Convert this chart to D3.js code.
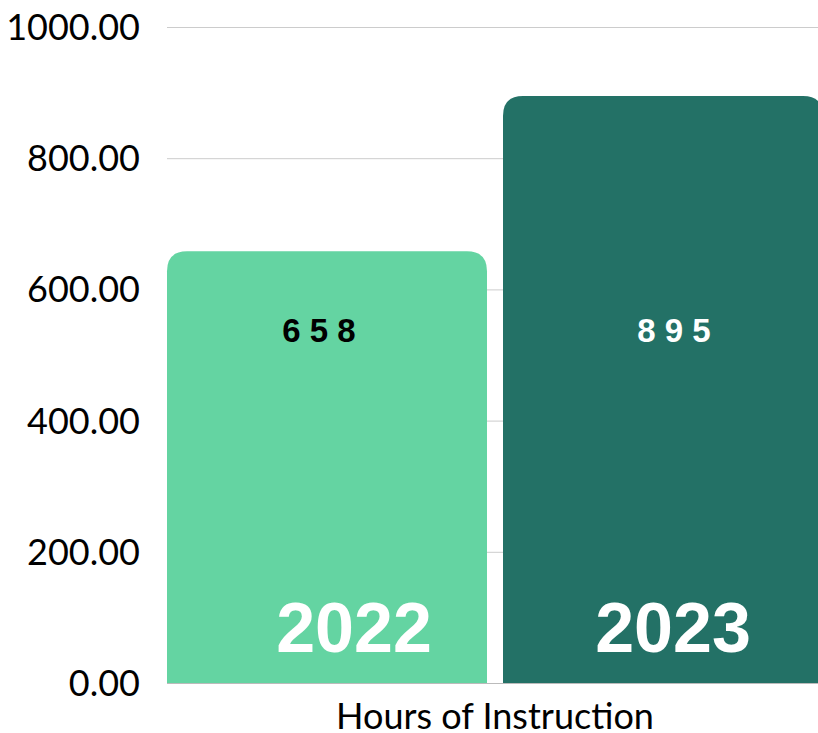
<!DOCTYPE html>
<html>
<head>
<meta charset="utf-8">
<script src="https://cdn.jsdelivr.net/npm/d3@7"></script>
<style>
  body { margin: 0; background: #fff; }
  svg { display: block; }
</style>
</head>
<body>
<svg id="chart" width="818" height="733"></svg>
<script>
const years = ["2022", "2023"];
const hours = [658, 895];
const yTicks = [0, 200, 400, 600, 800, 1000];
const axisTitle = "Hours of Instruction";
const barColors = ["#64d4a2", "#237166"];
const valueColors = ["#000000", "#ffffff"];

const svg = d3.select("#chart");
const plotLeft = 167, plotRight = 823, plotTop = 27, plotBottom = 683;

const x = d3.scaleBand()
  .domain(years)
  .range([plotLeft, plotRight])
  .paddingInner(16 / 336)
  .paddingOuter(0);

const y = d3.scaleLinear()
  .domain([0, 1000])
  .range([plotBottom, plotTop]);

// grid lines
svg.append("g")
  .selectAll("line")
  .data(yTicks.filter(d => d > 0))
  .enter()
  .append("line")
  .attr("x1", plotLeft)
  .attr("x2", 818)
  .attr("y1", d => y(d) + 0.5)
  .attr("y2", d => y(d) + 0.5)
  .attr("stroke", "#cccccc")
  .attr("stroke-width", 1);

// y tick labels
svg.append("g")
  .selectAll("text")
  .data(yTicks)
  .enter()
  .append("text")
  .attr("x", 140)
  .attr("y", d => y(d))
  .attr("dy", "0.36em")
  .attr("text-anchor", "end")
  .style("font-family", "Lato, sans-serif")
  .style("font-size", "36px")
  .attr("fill", "#000")
  .text(d => d3.format(".2f")(d));

// rounded-top bar path
function barPath(x0, y0, w, h, r) {
  return `M${x0},${y0 + h}V${y0 + r}Q${x0},${y0} ${x0 + r},${y0}` +
    `H${x0 + w - r}Q${x0 + w},${y0} ${x0 + w},${y0 + r}V${y0 + h}Z`;
}

const data = years.map((yr, i) => ({ year: yr, value: hours[i], i }));

svg.append("g")
  .selectAll("path")
  .data(data)
  .enter()
  .append("path")
  .attr("d", d => barPath(x(d.year), y(d.value), x.bandwidth(), plotBottom - y(d.value), 20))
  .attr("fill", d => barColors[d.i]);

// baseline
svg.append("line")
  .attr("x1", plotLeft)
  .attr("x2", 818)
  .attr("y1", plotBottom + 0.5)
  .attr("y2", plotBottom + 0.5)
  .attr("stroke", "#bbbbbb")
  .attr("stroke-width", 1);

// value labels
svg.append("g")
  .selectAll("text")
  .data(data)
  .enter()
  .append("text")
  .attr("x", d => x(d.year) + x.bandwidth() / 2 + (d.i === 0 ? -8 : 11))
  .attr("y", 342)
  .attr("text-anchor", "middle")
  .style("font-family", "'Liberation Sans', Arial, sans-serif")
  .style("font-weight", "bold")
  .style("font-size", "33px")
  .attr("fill", d => valueColors[d.i])
  .text(d => String(d.value).split("").join(" "));

// year labels
svg.append("g")
  .selectAll("text")
  .data(data)
  .enter()
  .append("text")
  .attr("x", d => x(d.year) + x.bandwidth() / 2 + (d.i === 0 ? 27 : 10))
  .attr("y", 652)
  .attr("text-anchor", "middle")
  .style("font-family", "'Liberation Sans', Arial, sans-serif")
  .style("font-weight", "bold")
  .style("font-size", "70px")
  .attr("fill", "#fff")
  .text(d => d.year);

// axis title
svg.append("text")
  .attr("x", 495)
  .attr("y", 729)
  .attr("text-anchor", "middle")
  .style("font-family", "Lato, sans-serif")
  .style("font-size", "36px")
  .attr("fill", "#000")
  .text(axisTitle);
</script>
</body>
</html>
